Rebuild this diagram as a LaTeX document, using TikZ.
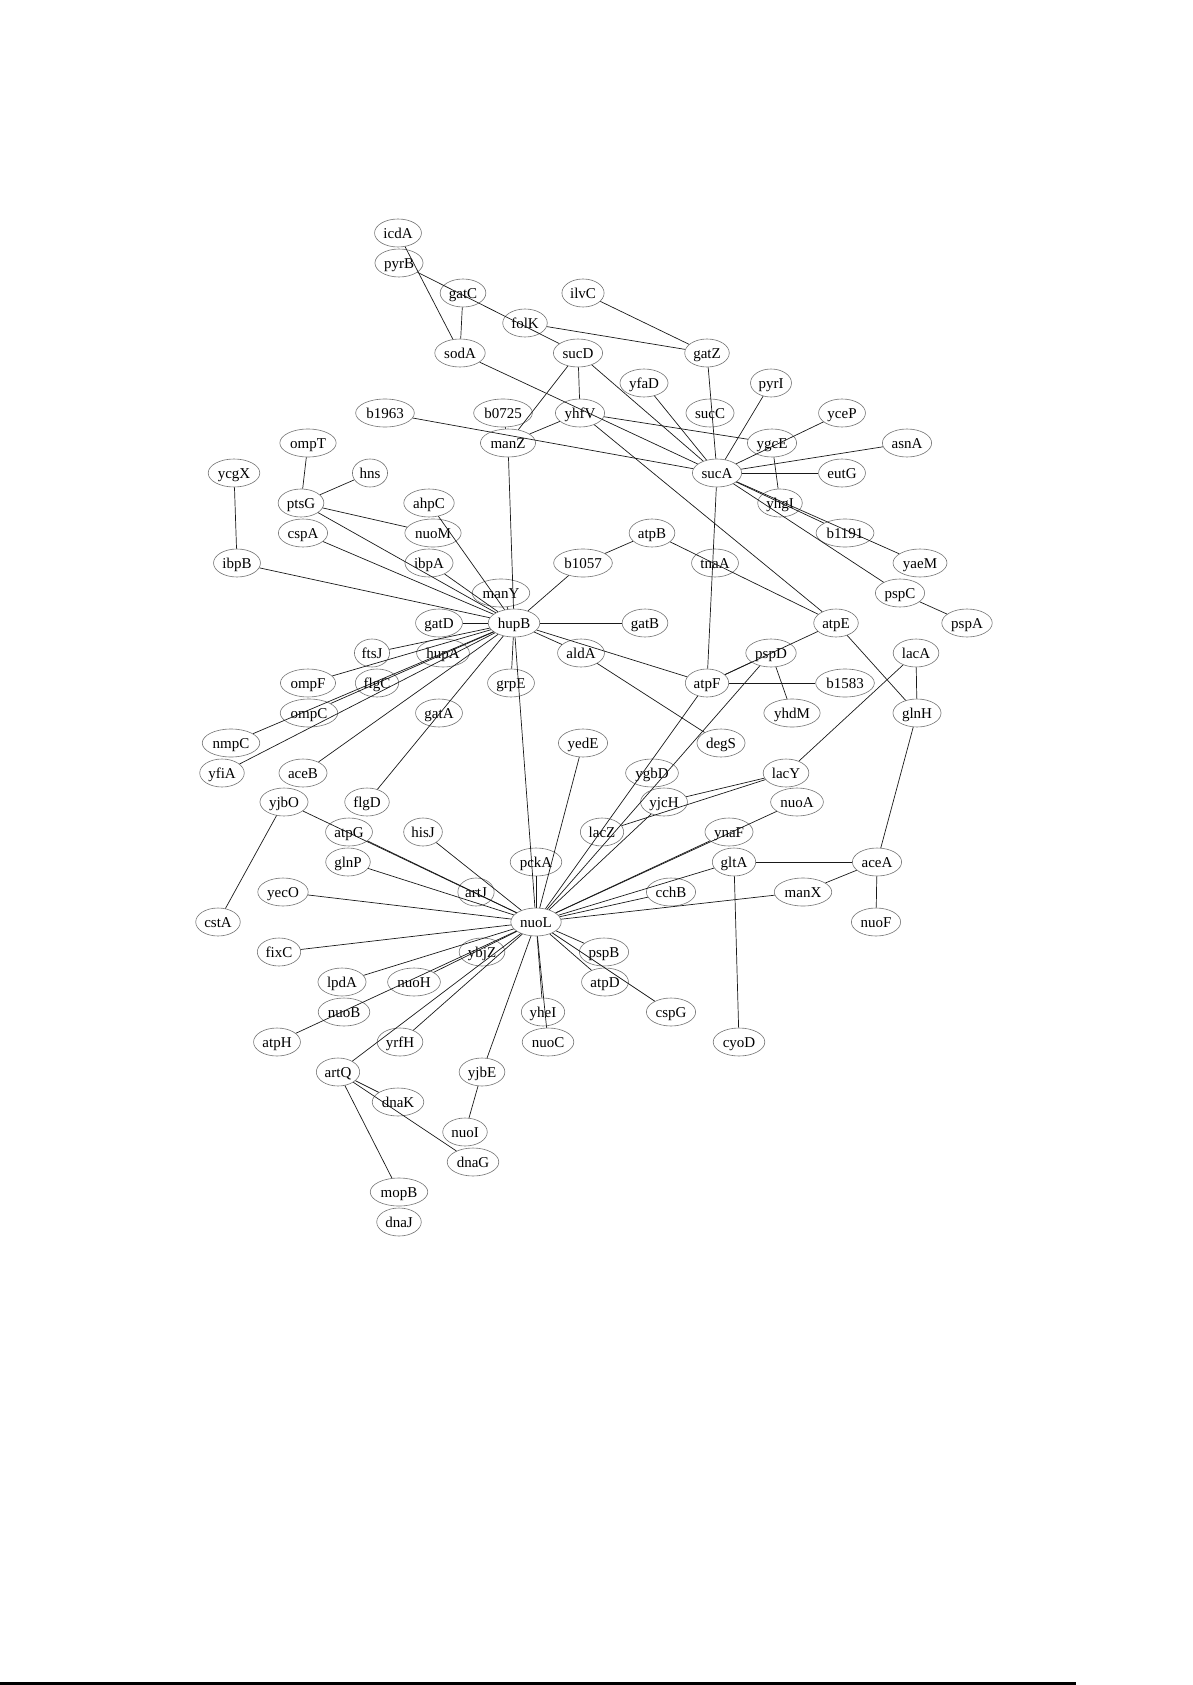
\documentclass[tikz,border=0pt]{standalone}
\usepackage{fontspec}
\setmainfont{Liberation Serif}
\usetikzlibrary{shapes.geometric}
\begin{document}
\begin{tikzpicture}[x=1pt,y=-1pt,
  gene/.style={ellipse, draw=black!55, line width=0.6pt, inner xsep=2pt, inner ysep=0pt,
    minimum height=28pt, text height=10.5pt, text depth=0pt, font=\fontsize{15}{15}\selectfont},
  link/.style={draw=black!90, line width=0.7pt}]
\path[use as bounding box] (0,0) rectangle (1192,1685);
% nodes
\node[gene] (icdA) at (398,233) {icdA};
\node[gene] (pyrB) at (399,263) {pyrB};
\node[gene] (gatC) at (463,293) {gatC};
\node[gene] (ilvC) at (583,293) {ilvC};
\node[gene] (folK) at (525,323) {folK};
\node[gene] (sodA) at (460,353) {sodA};
\node[gene] (sucD) at (578,353) {sucD};
\node[gene] (gatZ) at (707,353) {gatZ};
\node[gene] (yfaD) at (644,383) {yfaD};
\node[gene] (pyrI) at (771,383) {pyrI};
\node[gene] (b1963) at (385,413) {b1963};
\node[gene] (b0725) at (503,413) {b0725};
\node[gene] (yhfV) at (580,413) {yhfV};
\node[gene] (sucC) at (710,413) {sucC};
\node[gene] (yceP) at (842,413) {yceP};
\node[gene] (ompT) at (308,443) {ompT};
\node[gene] (manZ) at (508,443) {manZ};
\node[gene] (ygcE) at (772,443) {ygcE};
\node[gene] (asnA) at (907,443) {asnA};
\node[gene] (ycgX) at (234,473) {ycgX};
\node[gene] (hns) at (370,473) {hns};
\node[gene] (sucA) at (717,473) {sucA};
\node[gene] (eutG) at (842,473) {eutG};
\node[gene] (ptsG) at (301,503) {ptsG};
\node[gene] (ahpC) at (429,503) {ahpC};
\node[gene] (yhgI) at (780,503) {yhgI};
\node[gene] (cspA) at (303,533) {cspA};
\node[gene] (nuoM) at (433,533) {nuoM};
\node[gene] (atpB) at (652,533) {atpB};
\node[gene] (b1191) at (845,533) {b1191};
\node[gene] (ibpB) at (237,563) {ibpB};
\node[gene] (ibpA) at (429,563) {ibpA};
\node[gene] (b1057) at (583,563) {b1057};
\node[gene] (tnaA) at (715,563) {tnaA};
\node[gene] (yaeM) at (920,563) {yaeM};
\node[gene] (manY) at (501,593) {manY};
\node[gene] (pspC) at (900,593) {pspC};
\node[gene] (gatD) at (439,623) {gatD};
\node[gene] (hupB) at (514,623) {hupB};
\node[gene] (gatB) at (645,623) {gatB};
\node[gene] (atpE) at (836,623) {atpE};
\node[gene] (pspA) at (967,623) {pspA};
\node[gene] (ftsJ) at (372,653) {ftsJ};
\node[gene] (hupA) at (443,653) {hupA};
\node[gene] (aldA) at (581,653) {aldA};
\node[gene] (pspD) at (771,653) {pspD};
\node[gene] (lacA) at (916,653) {lacA};
\node[gene] (ompF) at (308,683) {ompF};
\node[gene] (flgC) at (377,683) {flgC};
\node[gene] (grpE) at (511,683) {grpE};
\node[gene] (atpF) at (707,683) {atpF};
\node[gene] (b1583) at (845,683) {b1583};
\node[gene] (ompC) at (309,713) {ompC};
\node[gene] (gatA) at (439,713) {gatA};
\node[gene] (yhdM) at (792,713) {yhdM};
\node[gene] (glnH) at (917,713) {glnH};
\node[gene] (nmpC) at (231,743) {nmpC};
\node[gene] (yedE) at (583,743) {yedE};
\node[gene] (degS) at (721,743) {degS};
\node[gene] (yfiA) at (222,773) {yfiA};
\node[gene] (aceB) at (303,773) {aceB};
\node[gene] (ygbD) at (652,773) {ygbD};
\node[gene] (lacY) at (786,773) {lacY};
\node[gene] (yjbO) at (284,802) {yjbO};
\node[gene] (flgD) at (367,802) {flgD};
\node[gene] (yjcH) at (664,802) {yjcH};
\node[gene] (nuoA) at (797,802) {nuoA};
\node[gene] (atpG) at (349,832) {atpG};
\node[gene] (hisJ) at (423,832) {hisJ};
\node[gene] (lacZ) at (602,832) {lacZ};
\node[gene] (ynaF) at (729,832) {ynaF};
\node[gene] (glnP) at (348,862) {glnP};
\node[gene] (pckA) at (536,862) {pckA};
\node[gene] (gltA) at (734,862) {gltA};
\node[gene] (aceA) at (877,862) {aceA};
\node[gene] (yecO) at (283,892) {yecO};
\node[gene] (artJ) at (476,892) {artJ};
\node[gene] (cchB) at (671,892) {cchB};
\node[gene] (manX) at (803,892) {manX};
\node[gene] (cstA) at (218,922) {cstA};
\node[gene] (nuoL) at (536,922) {nuoL};
\node[gene] (nuoF) at (876,922) {nuoF};
\node[gene] (fixC) at (279,952) {fixC};
\node[gene] (ybjZ) at (482,952) {ybjZ};
\node[gene] (pspB) at (604,952) {pspB};
\node[gene] (lpdA) at (342,982) {lpdA};
\node[gene] (nuoH) at (414,982) {nuoH};
\node[gene] (atpD) at (605,982) {atpD};
\node[gene] (nuoB) at (344,1012) {nuoB};
\node[gene] (yheI) at (543,1012) {yheI};
\node[gene] (cspG) at (671,1012) {cspG};
\node[gene] (atpH) at (277,1042) {atpH};
\node[gene] (yrfH) at (400,1042) {yrfH};
\node[gene] (nuoC) at (548,1042) {nuoC};
\node[gene] (cyoD) at (739,1042) {cyoD};
\node[gene] (artQ) at (338,1072) {artQ};
\node[gene] (yjbE) at (482,1072) {yjbE};
\node[gene] (dnaK) at (398,1102) {dnaK};
\node[gene] (nuoI) at (465,1132) {nuoI};
\node[gene] (dnaG) at (473,1162) {dnaG};
\node[gene] (mopB) at (399,1192) {mopB};
\node[gene] (dnaJ) at (399,1222) {dnaJ};
% edges
\foreach \a/\b in {icdA/sodA, pyrB/sucD, gatC/sodA, folK/gatZ, ilvC/gatZ, sodA/sucA,
  sucD/manZ, sucD/yhfV, sucD/sucA, b0725/manZ, manZ/yhfV, manZ/hupB, b1963/sucA,
  gatZ/sucA, yfaD/sucA, pyrI/sucA, yceP/sucA, asnA/sucA, eutG/sucA, yhfV/ygcE,
  yhfV/atpE, ygcE/yhgI, sucA/b1191, sucA/yaeM, sucA/pspC, pspC/pspA, sucA/atpF,
  ompT/ptsG, hns/ptsG, ycgX/ibpB, ptsG/nuoM, ptsG/hupB, cspA/hupB, ahpC/hupB,
  ibpA/hupB, ibpB/hupB, manY/hupB, gatD/hupB, b1057/hupB, b1057/atpB, atpB/atpE,
  hupB/gatB, hupB/aldA, hupB/atpF, aldA/degS, hupB/grpE, hupB/nuoL, hupB/ftsJ,
  hupB/ompF, hupB/ompC, hupB/nmpC, hupB/yfiA, hupB/aceB, hupB/flgD,
  atpE/atpF, pspD/atpF, atpF/b1583, pspD/yhdM, atpE/glnH, lacA/glnH, lacA/lacY,
  glnH/aceA, pspD/nuoL, atpF/nuoL, yedE/nuoL, lacZ/lacY, yjcH/lacY, yjcH/nuoL,
  nuoA/nuoL, ynaF/nuoL, gltA/nuoL, cchB/nuoL, manX/nuoL, gltA/aceA, aceA/manX,
  aceA/nuoF, gltA/cyoD, yjbO/cstA, yjbO/nuoL, atpG/nuoL, hisJ/nuoL, glnP/nuoL,
  yecO/nuoL, fixC/nuoL, lpdA/nuoL, atpH/nuoL, nuoH/nuoL, yrfH/nuoL, artQ/nuoL,
  yjbE/nuoL, yheI/nuoL, nuoC/nuoL, pspB/nuoL, atpD/nuoL, cspG/nuoL, pckA/nuoL,
  artQ/dnaK, artQ/dnaG, artQ/mopB, yjbE/nuoI}
  \draw[link] (\a) -- (\b);
% page-edge rule at the bottom
\fill[black] (0,1682) rectangle (1076,1685);
\end{tikzpicture}
\end{document}
